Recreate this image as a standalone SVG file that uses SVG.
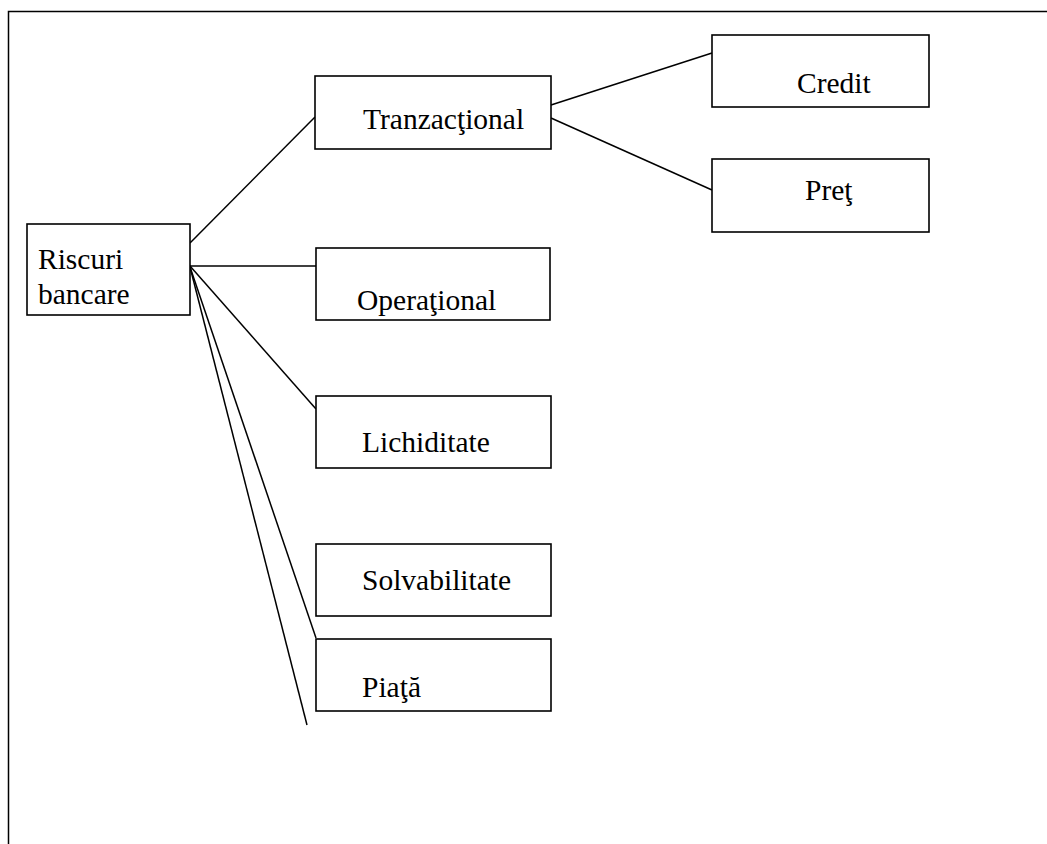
<svg xmlns="http://www.w3.org/2000/svg" width="1047" height="844" viewBox="0 0 1047 844">
<style>
.box{fill:#fff;stroke:#000;stroke-width:1.6}
.lbl{font-family:"Liberation Serif","Times New Roman",serif;font-size:29.5px;fill:#000}
.ln{stroke:#000;stroke-width:1.5;fill:none}
</style>
<rect width="1047" height="844" fill="#fff"/>
<path id="frame" class="ln" d="M8.5,844 V11.5 H1047"/>
<g id="connectors">
<line class="ln" x1="190" y1="243" x2="315" y2="117"/>
<line class="ln" x1="551" y1="105" x2="712" y2="53"/>
<line class="ln" x1="551" y1="118" x2="712" y2="190"/>
<line class="ln" x1="190" y1="266" x2="316" y2="266"/>
<line class="ln" x1="190" y1="266" x2="316" y2="409"/>
<line class="ln" x1="190" y1="267" x2="316" y2="638"/>
<line class="ln" x1="190" y1="267" x2="307" y2="725"/>
</g>
<g id="riscuri"><rect class="box" x="27" y="224" width="163" height="91"/><text class="lbl" x="38" y="269">Riscuri</text><text class="lbl" x="38" y="304">bancare</text></g>
<g id="tranzactional"><rect class="box" x="315" y="76" width="236" height="73"/><text class="lbl" x="363" y="129">Tranzacţional</text></g>
<g id="credit"><rect class="box" x="712" y="35" width="217" height="72"/><text class="lbl" x="797" y="93">Credit</text></g>
<g id="pret"><rect class="box" x="712" y="159" width="217" height="73"/><text class="lbl" x="805" y="200">Preţ</text></g>
<g id="operational"><rect class="box" x="316" y="248" width="234" height="72"/><text class="lbl" x="357" y="310">Operaţional</text></g>
<g id="lichiditate"><rect class="box" x="316" y="396" width="235" height="72"/><text class="lbl" x="362" y="452">Lichiditate</text></g>
<g id="solvabilitate"><rect class="box" x="316" y="544" width="235" height="72"/><text class="lbl" x="362" y="590">Solvabilitate</text></g>
<g id="piata"><rect class="box" x="316" y="639" width="235" height="72"/><text class="lbl" x="362" y="697">Piaţă</text></g>
</svg>
